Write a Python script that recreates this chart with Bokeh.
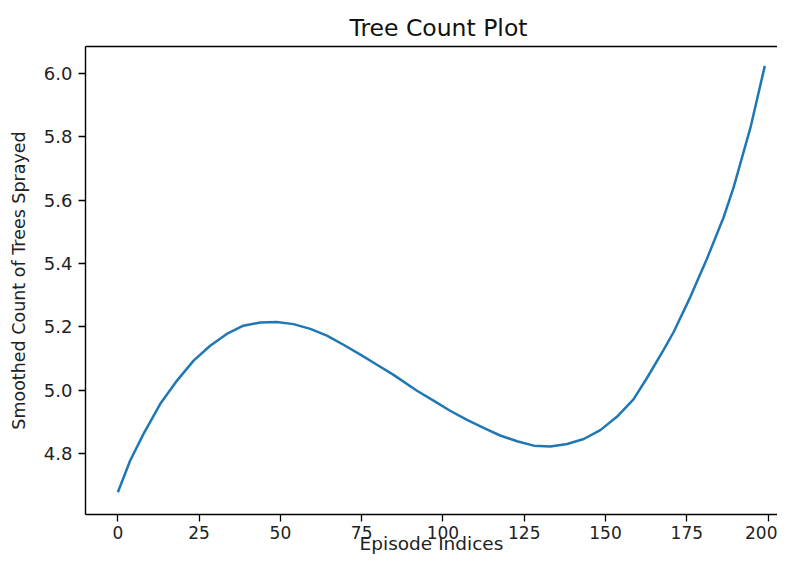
from bokeh.plotting import figure
from bokeh.models import Range1d, FixedTicker, LinearAxis
from bokeh.embed import file_html
from bokeh.resources import INLINE

# Data
episode = [0, 3.8, 7.9, 13.0, 18.2, 23.3, 28.4, 33.5, 38.6, 43.8, 48.9, 54.0, 59.2,
           64.3, 69.4, 74.6, 79.7, 84.8, 92.0, 97.1, 102.2, 107.4, 112.5, 117.6,
           122.8, 127.9, 133.0, 138.2, 143.3, 148.4, 153.5, 158.6, 162.8, 168.0,
           171.0, 176.1, 181.2, 186.3, 189.4, 194.6, 199]
smoothed = [4.679, 4.779, 4.863, 4.957, 5.031, 5.094, 5.141, 5.178, 5.204, 5.214,
            5.216, 5.209, 5.194, 5.173, 5.144, 5.113, 5.081, 5.049, 4.999, 4.968,
            4.936, 4.907, 4.882, 4.858, 4.840, 4.826, 4.823, 4.831, 4.847, 4.875,
            4.917, 4.972, 5.040, 5.130, 5.185, 5.295, 5.415, 5.545, 5.640, 5.829,
            6.023]
x_ticks = [0, 25, 50, 75, 100, 125, 150, 175, 200]
y_ticks = [4.8, 5.0, 5.2, 5.4, 5.6, 5.8, 6.0]
title_text = "Tree Count Plot"
x_label = "Episode Indices"
y_label = "Smoothed Count of Trees Sprayed"

FONT = "DejaVu Sans"

p = figure(width=777, height=558, output_backend="svg", toolbar_location=None,
           x_range=Range1d(-9.95, 202.9), y_range=Range1d(4.609, 6.084),
           title=title_text)
p.min_border_left = 85
p.min_border_right = 0
p.min_border_top = 46
p.min_border_bottom = 44
p.outline_line_color = None
p.grid.visible = False
p.background_fill_color = "white"
p.border_fill_color = "white"

p.title.text_font = FONT
p.title.text_font_size = "23.5px"
p.title.text_font_style = "normal"
p.title.text_color = "#111111"
p.title.align = "left"
p.title.offset = 264
p.title.standoff = 9

p.line(episode, smoothed, line_color="#1f77b4", line_width=2.5)

for ax in (p.xaxis[0], p.yaxis[0]):
    ax.axis_line_color = "black"
    ax.axis_line_width = 1.4
    ax.major_tick_line_color = "black"
    ax.major_tick_line_width = 1.3
    ax.major_tick_out = 7
    ax.major_tick_in = 0
    ax.minor_tick_line_color = None
    ax.major_label_text_font = FONT
    ax.major_label_text_color = "#222222"
    ax.axis_label_text_font = FONT
    ax.axis_label_text_font_style = "normal"
    ax.axis_label_text_color = "#222222"

p.xaxis[0].major_label_text_font_size = "17px"
p.yaxis[0].major_label_text_font_size = "18px"
p.xaxis[0].major_label_standoff = 4
p.yaxis[0].major_label_standoff = 6
p.xaxis[0].axis_label = x_label
p.xaxis[0].axis_label_text_font_size = "18.5px"
p.xaxis[0].axis_label_standoff = -9
p.yaxis[0].axis_label = y_label
p.yaxis[0].axis_label_text_font_size = "17.5px"
p.yaxis[0].axis_label_standoff = 12
p.xaxis[0].ticker = FixedTicker(ticks=x_ticks)
p.yaxis[0].ticker = FixedTicker(ticks=y_ticks)
p.yaxis[0].major_label_overrides = {t: f"{t:.1f}" for t in y_ticks}

top = LinearAxis(ticker=FixedTicker(ticks=[]), axis_line_color="black",
                 axis_line_width=1.4, major_tick_line_color=None,
                 minor_tick_line_color=None, major_label_text_font_size="0px",
                 major_label_standoff=0)
p.add_layout(top, "above")

open("out.html", "w").write(file_html(p, INLINE))
